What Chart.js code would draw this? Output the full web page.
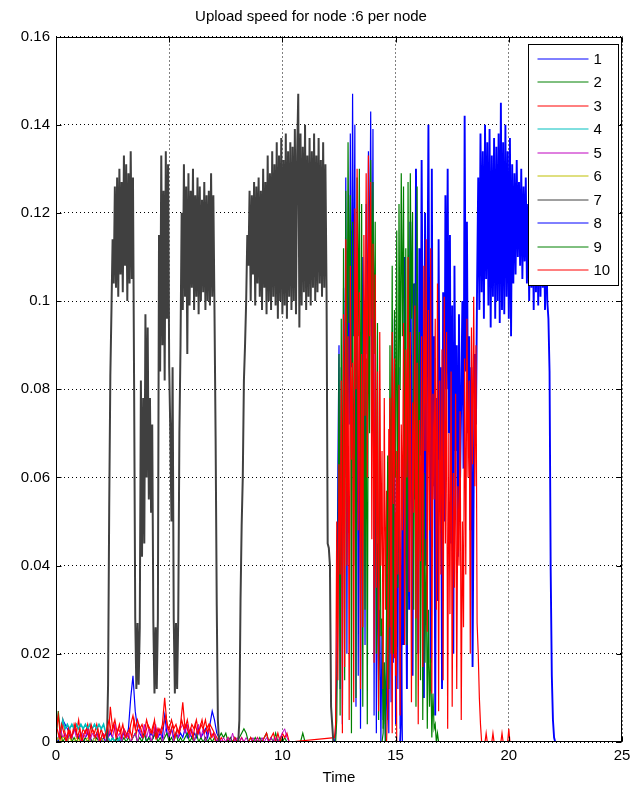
<!DOCTYPE html>
<html>
<head>
<meta charset="utf-8">
<title>Upload speed for node :6 per node</title>
<script src="https://cdn.jsdelivr.net/npm/chart.js@4.4.0/dist/chart.umd.min.js"></script>
<style>
  html, body { margin: 0; padding: 0; background: #fff; }
  #wrap { width: 636px; height: 789px; }
</style>
</head>
<body>
<div id="wrap"><canvas id="chart" width="636" height="789"></canvas></div>
<script>
// Upload speed per node.
// Values are in units of 0.001, each list is sampled with a fixed step from its start time.
const chartTitle = 'Upload speed for node :6 per node';
const seriesNames = ['1', '2', '3', '4', '5', '6', '7', '8', '9', '10'];
const seriesColors = ['#0000ff', '#008000', '#ff0000', '#00bfbf', '#bf00bf', '#bfbf00', '#404040', '#0000ff', '#008000', '#ff0000'];
const xTickLabels = ['0', '5', '10', '15', '20', '25'];
const yTickLabels = ['0', '0.02', '0.04', '0.06', '0.08', '0.1', '0.12', '0.14', '0.16'];

// node 1
const node1Low = [1,0,2,5,4,3,2,1,3,2, 1,2,0,1,2,1,0,1,2,1, 0,1,0,1,2,1,0,1,0,1, 2,1,3,10,15,7,3,2,1,2,
  0,1,2,1,3,1,2,1,6,2, 1,3,1,2,1,2,1,3,1,2, 1,2,1,3,1,2,3,1,4,7, 5,2,1,0,0];
const node1Burst = [0,2,15,62,90,12,85,4,103,60, 128,20,112,72,138,85,147,92,140,8, 105,15,93,3,60,110,96,22,122,88,
  134,105,143,80,139,6,97,2,45,14, 30,0,25,5,18,0,10,38,2,55, 9,72,18,96,4,60,12,85,3,24, 0,0];
// node 2
const node2Low = [0,7,2,0,1,0,2,0,1,0, 1,0,0,1,0,1,0,0,1,0, 1,0,0,1,0,1,0,1,0,0, 1,0,1,0,1,2,0,1,0,2,
  0,1,0,1,2,0,1,0,1,2, 0,1,0,2,0,1,0,1,2,0, 1,0,2,0,1,0,1,0,1,0, 1,0,1,2,1,2,0,1,0,1,
  0,1,2,3,2,0,1,0,1,0, 1,0,1,2,0,1,0,2,0,1, 0,1,0,0,0,0,0,0,0,2, 0];
const node2Burst = [0,0,5,30,88,6,96,35,112,14, 125,70,136,95,124,2,118,40,100,10, 128,92,130,55,122,8,98,30,87,4,
  111,70,132,96,127,88,118,20,95,5, 60,24,28,3,15,0,0];
// node 3
const node3Low = [2,6,1,5,2,1,3,1,4,2, 5,1,3,2,4,1,3,2,4,1, 3,1,2,0,8,3,5,2,4,1, 3,2,1,4,6,3,5,3,4,2,
  5,3,2,4,1,3,2,4,10,4, 3,5,3,4,2,4,9,3,5,2, 4,3,5,2,4,3,5,2,4,3, 2,1,0,1,0,0,1,0,0,1,
  0,0,1,0,0,0,1,0,0,1, 0,0,1,2,0,1,2,0,2,0, 2,1,2,0];
const node3Burst = [1,4,50,14,63,38,82,2,97,17, 114,40,92,5,108,64,86,9,121,80, 130,48,102,12,88,26,115,74,129,60,
  133,92,127,46,113,18,106,35,84,7, 93,40,66,12,78,30,57,5,71,26, 48,2,64,19,52,0,0];
// node 4
const node4Low = [0,1,2,5,3,4,3,4,3,4, 3,4,3,4,3,4,3,4,3,4, 3,4,2,1,0,1,0,0,1,0];
// node 5
const node5Low = [0,1,3,1,2,0,2,1,3,1, 2,0,2,1,3,0,2,1,2,0, 1,2,0,1,3,1,4,1,2,0, 3,1,2,0,1,2,0,3,1,4,
  1,3,0,2,4,1,3,0,2,4, 1,3,0,2,1,3,4,2,4,1, 3,0,2,4,1,3,0,2,3,1, 2,0,1,0,1,0,1,0,2,0,
  1,0,1,0,1,0,0,1,0,1, 0,1,0,1,0,1,0,1,0,1, 2,3,1,0];
// node 6
const node6Low = [0,1,0,1,1,0,1,0,0,1, 0,1,0,0,1,0,0,1,0,0, 1,0];
// node 7
const node7 = [0, 13,53,83,98,114,104,126,103,128,101,130,106,127,102,133,108,131,100,129,104,134,105,128,
  81,28,12,27,13,26, 82,42,78,45,97,60,94,55,78,52,72, 27,11,26,12,28,
  115,84,133,90,125,82,134,96,131,85, 70,50,85, 28,11,27,12,28, 70,90,120,98,
  131,101,126,88,129,99,125,103,130,98,124,101,128,97,126,100,123,102,127,98,124,100,125,99,129,101,124,98,
  69,31,5,0, 0,0,0,0,0,0,0,0,0,0,0,0,0,0,0,0,0,
  5,32,49,60,82,90,100,115,
  108,125,100,124,106,127,99,126,104,128, 101,125,98,130,103,127,97,133,100,129,
  98,134,101,131,99,136,96,133,100,137, 97,132,99,138,96,134,101,136,98,135,
  100,139,97,133,147,94,138,99,135,102, 140,98,133,101,137,99,134,103,138,100,
  133,102,137,104,132,101,136,103,131,102,
  45,44,40,8,4,0];
// node 8
const node8Burst = [0,5,60,22,110,48,12,95,30,118, 70,15,104,55,130,88,20,112,65,132,
  86,10,120,40,96,140,75,18,130,58, 92,6,78,32,114,64,85,12,102,50,
  124,80,130,70,115,45,99,20,108,66, 90,42,97,60,78,100,62,142,84,118,
  70,92,48,85,17,60,88,72,104,128, 98,138,102,134,96,140,105,136,99,139,
  94,133,101,137,96,135,100,138,95,145, 98,136,97,140,101,134,96,137,92,131,
  104,129,106,132,110,127,108,130,105,126, 109,128,104,122,100,125,103,121,98,126,
  102,120,99,124,101,119,103,118,98,116, 100,96,84,39,15,5,1,0];
// node 9
const node9Burst = [0,2,18,4,30,65,12,90,45,108, 20,98,60,116,35,122,80,129,92,126,
  50,112,22,127,70,129,96,120,30,104, 8,126,42,93,14,82,5,61,18,46, 3,30,8,19,1,11,3,4,0,2, 0];
// node 10
const node10Low = [3,1,4,2,0,3,1,2,4,1, 3,0,2,3,1,4,2,1,3,0, 2,1,3,5,2,4,1,3,2,4, 1,2,3,1,5,2,4,3,1,2,
  4,3,2,5,1,3,2,4,6,3, 2,4,1,3,2,5,3,4,2,3, 1,4,2,3,5,2,3,4,1,2, 0];
const node10Burst = [0,8,45,78,20,93,54,87,15,66, 38,81,6,72,48,95,22,89,60,110,
  34,93,9,77,52,99,28,86,4,73, 41,92,17,108,66,114,25,98,48,112,
  11,79,55,96,30,104,7,82,38,89, 14,101,45,93,3,70,29,84,8,61,
  35,79,12,58,40,75,5,50,26,87, 38,96,60,82,20,94,63,101,58,90,
  27,20,10,4,0,0,0,0,2,0, 0,0,0,0,2,0,0,0,0,0, 0,0,2,0,0,0,0,0,3,0];

// [start time, step, values]
const seriesSegments = [
  [[0, 0.1, node1Low], [12.3, 0.05, node1Burst]],
  [[0, 0.1, node2Low], [12.3, 0.05, node2Burst]],
  [[0, 0.1, node3Low], [12.3, 0.05, node3Burst]],
  [[0, 0.1, node4Low]],
  [[0, 0.1, node5Low]],
  [[0, 0.1, node6Low]],
  [[2.25, 0.05, node7]],
  [[15.2, 0.05, node8Burst]],
  [[14.4, 0.05, node9Burst]],
  [[0.05, 0.1, node10Low], [14.6, 0.05, node10Burst]]
];

// the dense blocks (7 and 8) look solid in the original, so they get a heavier pen
const lineWidths = [1.2, 1.2, 1.2, 1.6, 1, 1, 2, 1.9, 1.2, 1.2];
const fontFamily = "'Liberation Sans', Arial, Helvetica, sans-serif";

function toPoints(segments) {
  const pts = [];
  segments.forEach(([t0, step, vals]) => {
    vals.forEach((v, i) => {
      pts.push({ x: Math.round((t0 + i * step) * 1000) / 1000, y: v / 1000 });
    });
  });
  return pts;
}

const datasets = seriesNames.map((name, i) => ({
  label: name,
  data: toPoints(seriesSegments[i]),
  borderColor: seriesColors[i],
  backgroundColor: seriesColors[i],
  borderWidth: lineWidths[i],
  pointRadius: 0,
  fill: false,
  tension: 0,
  order: seriesNames.length - i   // later series on top, like the original
}));

// box, inward ticks and the legend inside the axes
const matlabFrame = {
  id: 'matlabFrame',
  afterDraw(chart) {
    const { ctx, chartArea: a, scales: { x, y } } = chart;
    const L = Math.round(a.left) + 0.5, R = Math.round(a.right) - 0.5;
    const T = Math.round(a.top) + 0.5, B = Math.round(a.bottom) - 0.5;
    ctx.save();
    ctx.strokeStyle = '#000';
    ctx.lineWidth = 1;
    ctx.setLineDash([]);
    ctx.strokeRect(L, T, R - L, B - T);

    ctx.beginPath();
    x.ticks.forEach(t => {
      const px = Math.round(x.getPixelForValue(t.value)) + 0.5;
      ctx.moveTo(px, B); ctx.lineTo(px, B - 5);
      ctx.moveTo(px, T); ctx.lineTo(px, T + 5);
    });
    y.ticks.forEach(t => {
      const py = Math.round(y.getPixelForValue(t.value)) + 0.5;
      ctx.moveTo(L, py); ctx.lineTo(L + 5, py);
      ctx.moveTo(R, py); ctx.lineTo(R - 5, py);
    });
    ctx.stroke();

    // legend
    const lw = 90, lh = 241;
    const lx = Math.round(a.right) - 94 + 0.5, ly = Math.round(a.top) + 7.5;
    ctx.fillStyle = '#fff';
    ctx.fillRect(lx, ly, lw, lh);
    ctx.strokeStyle = '#000';
    ctx.strokeRect(lx, ly, lw, lh);
    ctx.font = '15px ' + fontFamily;
    ctx.textBaseline = 'middle';
    ctx.textAlign = 'left';
    chart.data.datasets.forEach((ds, i) => {
      const ry = Math.round(ly + 14 + i * 23.5);
      ctx.strokeStyle = ds.borderColor;
      ctx.beginPath();
      ctx.moveTo(lx + 9, ry);
      ctx.lineTo(lx + 60, ry);
      ctx.stroke();
      ctx.fillStyle = '#000';
      ctx.fillText(ds.label, lx + 65, ry + 1);
    });
    ctx.restore();
  }
};

const tickFont = { family: fontFamily, size: 15 };

new Chart(document.getElementById('chart').getContext('2d'), {
  type: 'line',
  data: { datasets },
  options: {
    responsive: false,
    animation: false,
    devicePixelRatio: 1,
    layout: { padding: { left: 0, right: 14, top: 0, bottom: 0 } },
    elements: { point: { radius: 0 }, line: { borderWidth: 1, tension: 0 } },
    plugins: {
      legend: { display: false },
      tooltip: { enabled: false },
      title: {
        display: true,
        text: chartTitle,
        color: '#000',
        font: { family: fontFamily, size: 15, weight: 'normal' },
        padding: { top: 8, bottom: 10.5 }
      }
    },
    scales: {
      x: {
        type: 'linear',
        min: 0,
        max: 25,
        afterFit: s => { s.height = 47; },
        ticks: { stepSize: 5, color: '#000', font: tickFont, padding: 5, maxRotation: 0,
          callback: (v, i) => xTickLabels[i] },
        grid: { color: '#000', lineWidth: 1, drawTicks: false },
        border: { display: false, dash: [1, 3] },
        title: { display: true, text: 'Time', color: '#000', font: tickFont, padding: { top: 0, bottom: 2 } }
      },
      y: {
        type: 'linear',
        min: 0,
        max: 0.16,
        afterFit: s => { s.width = 56; },
        ticks: { stepSize: 0.02, color: '#000', font: tickFont, padding: 6,
          callback: (v, i) => yTickLabels[i] },
        grid: { color: '#000', lineWidth: 1, drawTicks: false },
        border: { display: false, dash: [1, 3] }
      }
    }
  },
  plugins: [matlabFrame]
});
</script>
</body>
</html>
